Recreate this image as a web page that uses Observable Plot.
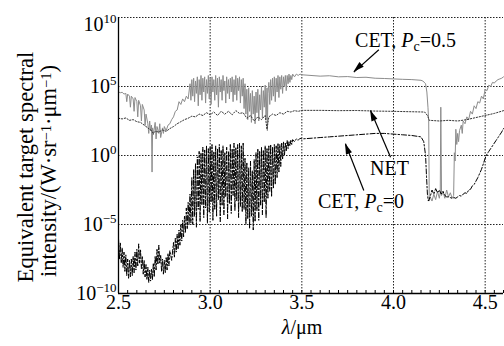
<!DOCTYPE html>
<html><head><meta charset="utf-8">
<script src="https://cdn.jsdelivr.net/npm/d3@7"></script>
<script src="https://cdn.jsdelivr.net/npm/@observablehq/plot@0.6"></script>
<style>html,body{margin:0;padding:0;background:#fff;overflow:hidden} svg{display:block}</style>
</head><body><div id="chart"></div>
<script>
// ---- data (wavelength in μm, intensity as log10 exponent) ----
const cet05Wl = [2.500,2.510,2.520,2.530,2.540,2.545,2.550,2.560,2.565,2.570,2.580,2.585,2.590,2.600,2.605,2.610,2.620,2.625,2.630,2.640,2.645,2.650,2.660,2.665,2.670,2.675,2.680,2.683,2.686,2.690,2.700,2.705,2.710,2.720,2.725,2.730,2.740,2.745,2.750,2.760,2.770,2.780,2.790,2.800,2.810,2.820,2.830,2.840,2.850,2.860,2.870,2.880,
2.890,2.895,2.900,2.905,2.910,2.915,2.920,2.925,2.930,2.935,2.940,2.945,2.950,2.955,2.960,2.965,2.970,2.975,2.980,2.985,2.990,2.995,3.000,3.005,3.010,3.015,3.020,3.025,3.030,3.035,3.040,3.045,3.050,3.055,3.060,3.065,3.070,3.075,3.080,3.085,3.090,3.095,3.100,3.105,3.110,3.115,3.120,3.125,3.130,3.135,3.140,3.145,3.150,3.155,3.160,3.165,3.170,3.175,3.180,3.185,3.190,3.195,3.200,3.205,3.210,3.215,3.220,3.225,3.230,3.235,3.240,3.245,3.250,3.255,3.260,3.265,3.270,3.275,3.280,3.285,3.290,3.295,3.300,3.305,3.310,3.312,3.315,3.320,3.325,3.330,3.335,3.340,3.345,3.350,3.355,3.360,3.365,3.370,3.375,3.380,3.385,3.390,3.395,3.400,3.405,3.410,3.415,3.420,3.425,3.430,3.435,3.440,3.445,3.450,3.460,3.470,3.480,3.490,3.500,
3.55,3.60,3.65,3.70,3.75,3.80,3.85,3.90,3.95,4.00,4.05,4.10,4.15,4.16,4.175,4.182,4.188,4.192,4.195,4.20,4.21,4.22,4.23,4.24,4.25,4.255,4.258,4.262,4.27,4.28,4.29,4.30,4.31,4.32,4.328,4.332,4.336,4.34,4.345,4.35,4.355,4.36,4.37,4.375,4.38,4.39,4.40,4.41,4.42,4.43,4.44,4.45,4.46,4.47,4.48,4.49,4.50,4.51,4.52,4.53,4.54,4.55,4.56,4.57,4.58,4.59,4.60];
const cet05Log = [4.60,4.55,4.58,4.45,4.50,3.9,4.45,4.3,3.5,4.3,4.1,3.2,4.2,3.9,2.8,4.0,3.6,2.5,3.7,3.3,2.2,3.0,2.3,1.6,2.5,1.8,2.2,-1.2,2.0,1.5,2.4,1.2,2.1,1.6,2.3,1.3,2.0,1.6,2.1,1.8,2.2,2.3,2.6,2.8,3.2,3.3,3.9,3.7,4.1,3.9,4.3,4.1,
5.2,4.0,5.5,4.3,5.6,3.9,5.4,4.5,5.7,3.6,5.5,4.4,5.8,4.0,5.6,4.6,5.7,3.8,5.5,4.5,5.8,4.1,5.6,3.7,5.7,4.6,5.5,4.0,5.8,4.4,5.6,3.5,5.7,4.6,5.5,4.0,5.8,4.7,5.4,3.8,5.7,4.5,5.5,4.1,5.6,4.6,5.7,3.9,5.5,4.4,5.8,4.0,5.6,4.7,5.7,3.8,5.5,4.3,5.6,3.4,5.2,3.0,4.8,2.6,4.9,3.2,4.5,2.4,4.7,3.0,4.3,2.3,4.6,3.1,4.8,2.5,4.4,3.3,5.0,2.7,4.7,3.5,5.1,2.6,4.9,1.8,4.5,5.3,3.7,5.5,4.0,5.6,4.3,5.7,3.9,5.6,4.6,5.8,4.2,5.7,4.8,5.8,4.5,5.7,5.0,5.8,4.7,5.8,5.2,5.9,5.3,5.8,5.5,5.9,5.7,5.9,5.8,5.9,5.85,
5.8,5.75,5.78,5.7,5.72,5.65,5.67,5.6,5.58,5.55,5.52,5.5,5.45,5.4,5.2,4.6,3.5,2.5,-3.3,-3.0,-3.3,-2.8,-3.2,-2.6,-3.1,-2.7,3.5,-2.9,-2.6,-3.1,-2.5,-3.0,-2.7,-3.1,-2.9,0.2,-0.4,1.9,0.8,1.6,1.0,1.8,2.2,1.6,2.5,2.3,2.8,2.6,3.2,3.0,3.6,3.4,3.9,3.8,4.3,4.1,4.8,4.7,5.1,5.0,5.3,5.25,5.4,5.5,5.55,5.6,5.7];

const netWl = [2.50,2.52,2.54,2.56,2.58,2.60,2.62,2.64,2.66,2.68,2.69,2.70,2.72,2.74,2.76,2.78,2.80,2.82,2.84,2.86,2.88,2.90,2.92,2.94,2.96,2.98,3.00,3.02,3.04,3.06,3.08,3.10,3.12,3.14,3.16,3.18,3.20,3.22,3.24,3.26,3.28,3.30,3.31,3.32,3.34,3.36,3.38,3.40,3.42,3.44,3.46,3.48,3.50,3.60,3.70,3.80,3.90,4.00,4.10,4.17,4.185,4.195,4.25,4.30,4.35,4.40,4.45,4.50,4.55,4.60];
const netLog = [2.70,2.65,2.72,2.55,2.6,2.45,2.4,2.2,2.0,1.8,1.6,1.75,1.7,1.85,1.75,1.95,2.1,2.3,2.45,2.6,2.7,2.85,2.8,3.0,2.9,3.1,2.95,3.15,2.9,3.2,3.0,3.2,2.95,3.25,3.05,3.1,2.7,2.9,2.5,2.8,2.6,2.9,1.9,2.8,3.0,2.9,3.1,3.0,3.2,3.15,3.25,3.2,3.27,3.27,3.25,3.26,3.22,3.2,3.17,3.15,2.9,2.55,2.5,2.55,2.5,2.6,2.75,2.9,3.05,3.25];

const cet0Wl = [2.500,2.505,2.510,2.515,2.520,2.525,2.530,2.535,2.540,2.545,2.550,2.555,2.560,2.565,2.570,2.575,2.580,2.585,2.590,2.595,2.600,2.605,2.610,2.615,2.620,2.625,2.630,2.635,2.640,2.645,2.650,2.655,2.660,2.665,2.670,2.675,2.680,2.685,2.690,2.695,2.700,2.705,2.710,2.715,2.720,2.725,2.730,2.735,2.740,2.745,2.750,2.755,2.760,2.765,2.770,2.775,2.780,2.790,2.800,2.805,2.810,2.815,2.820,2.825,2.830,2.835,2.840,2.845,2.850,2.855,2.860,2.865,2.870,2.875,2.880,2.885,2.890,2.895,
2.900,2.905,2.910,2.915,2.920,2.925,2.930,2.935,2.940,2.945,2.950,2.955,2.960,2.965,2.970,2.975,2.980,2.985,2.990,2.995,3.000,3.005,3.010,3.015,3.020,3.025,3.030,3.035,3.040,3.045,3.050,3.055,3.060,3.065,3.070,3.075,3.080,3.085,3.090,3.095,3.100,3.105,3.110,3.115,3.120,3.125,3.130,3.135,3.140,3.145,3.150,3.155,3.160,3.165,3.170,3.175,3.180,3.185,3.190,3.195,3.200,3.205,3.210,3.215,3.220,3.225,3.230,3.235,3.240,3.245,3.250,3.255,3.260,3.265,3.270,3.275,3.280,3.285,3.290,3.295,3.300,3.305,3.310,3.315,3.320,3.325,3.330,3.335,3.340,3.345,3.350,3.355,3.360,3.365,3.370,3.375,3.380,3.385,3.390,3.395,3.400,3.405,3.410,3.415,3.420,3.425,3.430,3.435,3.440,3.445,3.450,3.460,3.470,3.480,3.490,3.500,
3.55,3.60,3.65,3.70,3.75,3.80,3.85,3.90,3.95,4.00,4.05,4.10,4.15,4.165,4.175,4.18,4.185,4.19,4.20,4.21,4.22,4.23,4.24,4.25,4.26,4.27,4.28,4.29,4.30,4.31,4.32,4.33,4.34,4.35,4.36,4.37,4.38,4.39,4.40,4.41,4.42,4.43,4.44,4.45,4.46,4.47,4.48,4.49,4.50,4.51,4.52,4.53,4.54,4.55,4.56,4.57,4.58,4.59,4.60];
const cet0Log = [-6.0,-7.5,-6.3,-7.8,-6.7,-8.1,-7.0,-8.4,-7.2,-8.7,-7.5,-8.9,-7.6,-8.8,-7.5,-8.7,-7.3,-8.5,-7.0,-8.3,-6.8,-8.0,-6.4,-7.8,-6.8,-8.2,-7.3,-8.6,-7.6,-8.8,-7.9,-9.0,-8.1,-9.2,-8.3,-9.1,-8.2,-9.0,-7.8,-8.8,-7.3,-8.3,-6.8,-7.9,-6.5,-7.8,-7.2,-8.4,-7.5,-8.6,-7.6,-8.5,-7.4,-8.3,-7.1,-8.0,-6.9,-7.6,-6.3,-7.4,-6.0,-7.0,-5.7,-6.8,-5.4,-6.5,-5.0,-6.2,-4.7,-5.9,-4.4,-5.6,-3.8,-5.3,-3.4,-5.0,-2.8,-4.9,
-1.6,-5.0,-1.0,-4.4,-0.6,-5.2,-0.1,-3.9,0.3,-4.8,0.2,-3.6,0.6,-4.5,0.4,-3.8,0.7,-4.9,0.5,-4.1,0.6,-3.4,0.8,-4.7,0.3,-3.9,0.7,-4.4,0.5,-3.2,0.8,-4.8,0.4,-3.6,0.7,-4.3,0.2,-3.0,0.6,-4.6,0.3,-3.5,0.8,-4.2,0.5,-2.9,0.9,-4.0,0.6,-3.3,0.8,-4.5,0.9,-3.7,0.7,-4.1,0.9,-3.9,-0.2,-5.0,-0.5,-4.6,-0.9,-5.3,-0.4,-4.4,-1.1,-5.4,-0.3,-4.8,0.2,-4.0,0.5,-4.7,0.3,-3.6,0.6,-4.3,0.4,-3.4,0.7,-4.5,0.5,-3.1,0.7,-2.6,0.8,-3.0,0.6,-2.4,0.8,-2.1,0.7,-1.6,0.9,-1.2,0.8,-0.8,0.9,-0.3,1.0,0.0,0.9,0.3,1.1,0.5,1.0,0.7,1.1,0.8,1.15,1.0,1.2,1.1,1.25,1.2,
1.25,1.3,1.35,1.4,1.45,1.5,1.55,1.6,1.6,1.55,1.5,1.45,1.35,1.0,0.0,-1.5,-2.8,-3.3,-3.0,-2.5,-2.8,-2.4,-2.7,-2.5,-2.8,-2.6,-2.9,-3.0,-3.0,-3.05,-3.1,-3.05,-3.1,-3.0,-2.9,-2.95,-2.8,-2.7,-2.75,-2.5,-2.45,-2.2,-2.1,-1.85,-1.6,-1.3,-1.0,-0.6,-0.2,0.1,0.3,0.5,0.7,0.9,1.1,1.3,1.5,1.7,1.95];

const xTickValues = [2.5, 3.0, 3.5, 4.0, 4.5];
const xGridValues = [3.0, 3.5, 4.0, 4.5];
const yTickExps = [-10, -5, 0, 5, 10];
const yGridExps = [-5, 0, 5, 10];

// annotation labels, anchored at left baseline (wavelength, log10 value)
const labelNames = ["CET05", "NET", "CET0"];
const labelWl = [3.793, 3.875, 3.591];
const labelLog = [7.83, -1.45, -3.84];
// arrows: tail -> head
const arrowTailWl = [3.92, 3.984, 3.838];
const arrowTailLog = [7.66, -0.12, -2.54];
const arrowHeadWl = [3.784, 3.875, 3.738];
const arrowHeadLog = [6.04, 3.26, 0.85];

// ---- build tables ----
const toRows = (wl, lg) => wl.map((w, i) => ({w, v: Math.pow(10, lg[i])}));
const cet05 = toRows(cet05Wl, cet05Log);
const net = toRows(netWl, netLog);
const cet0 = toRows(cet0Wl, cet0Log);
const arrows = arrowTailWl.map((w, i) => ({x1: w, y1: Math.pow(10, arrowTailLog[i]), x2: arrowHeadWl[i], y2: Math.pow(10, arrowHeadLog[i])}));
const minorTicks = d3.range(0, 43).map(i => 2.5 + i * 0.05);

const FONT = "'Liberation Serif', serif";
const PLOT_H = 346 - 17 - 53;

const chart = Plot.plot({
  width: 504, height: 346,
  marginLeft: 118, marginRight: 1, marginTop: 17, marginBottom: 53,
  style: {fontFamily: FONT, fontSize: "20px", background: "#fff", color: "#000"},
  x: {domain: [2.5, 4.6]},
  y: {type: "log", domain: [1e-10, 1e10]},
  marks: [
    Plot.ruleX(xGridValues, {stroke: "#222", strokeWidth: 1, strokeDasharray: "1.5,1.5"}),
    Plot.ruleY(yGridExps.map(e => Math.pow(10, e)), {stroke: "#222", strokeWidth: 1, strokeDasharray: "1.5,1.5"}),
    Plot.line(cet05, {x: "w", y: "v", stroke: "#8c8c8c", strokeWidth: 1}),
    Plot.line(net, {x: "w", y: "v", stroke: "#333", strokeWidth: 1, strokeDasharray: "1.3,1.7"}),
    Plot.line(cet0, {x: "w", y: "v", stroke: "#000", strokeWidth: 1, strokeDasharray: "5,2,1.5,2"}),
    Plot.link(arrows, {x1: "x1", y1: "y1", x2: "x2", y2: "y2", stroke: "#000", strokeWidth: 1.2}),
    Plot.ruleX(minorTicks, {stroke: "#000", strokeWidth: 1, insetTop: PLOT_H - 3}),
    Plot.ruleX([2.5], {stroke: "#000", strokeWidth: 1.3}),
    Plot.ruleY([1e-10], {stroke: "#000", strokeWidth: 1.3}),
    Plot.axisX(xTickValues, {anchor: "bottom", tickSize: 0, tickPadding: 1, tickFormat: d3.format(".1f"), label: null}),
    Plot.axisY(yTickExps.map(e => Math.pow(10, e)), {anchor: "left", tickSize: 0, tickPadding: 2, tickFormat: d => "10^" + Math.round(Math.log10(d)), label: null})
  ]
});

document.getElementById("chart").appendChild(chart);
const svg = d3.select(chart);
const sx = chart.scale("x"), sy = chart.scale("y");

// superscripts on y tick labels
svg.selectAll('g[aria-label="y-axis tick label"] text').each(function () {
  const t = this.textContent;
  if (!t.includes("^")) return;
  const [b, e] = t.split("^");
  this.textContent = b;
  d3.select(this).append("tspan").attr("dy", "-8").attr("font-size", "13px").text(e.replace("-", "\u2212"));
  if (e === "10") {
    const tr = this.getAttribute("transform") || "";
    this.setAttribute("transform", tr + " translate(0,7)");
  }
});

// arrow heads
arrows.forEach(a => {
  const x1 = sx.apply(a.x1), y1 = sy.apply(a.y1), x2 = sx.apply(a.x2), y2 = sy.apply(a.y2);
  const ang = Math.atan2(y2 - y1, x2 - x1);
  const L = 11, W = 3.2;
  const bx = x2 - L * Math.cos(ang), by = y2 - L * Math.sin(ang);
  const px = -Math.sin(ang) * W, py = Math.cos(ang) * W;
  svg.append("path").attr("d", `M${x2},${y2}L${bx + px},${by + py}L${bx - px},${by - py}Z`).attr("fill", "#000");
});

// annotation labels
function addLabel(i) {
  const t = svg.append("text").attr("x", sx.apply(labelWl[i])).attr("y", sy.apply(Math.pow(10, labelLog[i])))
    .attr("text-anchor", "start").attr("font-size", 20).attr("fill", "#000");
  const name = labelNames[i];
  if (name === "NET") { t.text("NET"); return; }
  t.append("tspan").text("CET, ");
  t.append("tspan").attr("font-style", "italic").text("P");
  t.append("tspan").attr("font-size", 14).attr("dy", 4).text("c");
  t.append("tspan").attr("dy", -4).text(name === "CET05" ? "=0.5" : "=0");
}
[0, 1, 2].forEach(addLabel);

// x axis title
const xt = svg.append("text").attr("x", 302).attr("y", 334).attr("text-anchor", "middle").attr("font-size", 20);
xt.append("tspan").attr("font-style", "italic").text("λ");
xt.append("tspan").text("/μm");

// y axis title (two lines)
const yt1 = svg.append("text").attr("transform", "translate(33,167) rotate(-90)").attr("text-anchor", "middle")
  .attr("font-size", 22).text("Equivalent target spectral");
const yt2 = svg.append("text").attr("transform", "translate(56,171) rotate(-90)").attr("text-anchor", "middle").attr("font-size", 22);
yt2.append("tspan").text("intensity/(W·sr");
yt2.append("tspan").attr("dy", "-0.33em").attr("font-size", "0.64em").text("\u22121");
yt2.append("tspan").attr("dy", "0.21em").text("·μm");
yt2.append("tspan").attr("dy", "-0.33em").attr("font-size", "0.64em").text("\u22121");
yt2.append("tspan").attr("dy", "0.21em").text(")");

svg.selectAll("text").style("font-family", FONT);

// fit the two title lines to the reference lengths
[[yt1, 231], [yt2, 212]].forEach(([sel, target]) => {
  const len = sel.node().getComputedTextLength();
  if (len > 0) sel.attr("font-size", Math.max(16, Math.min(24, 22 * target / len)));
});
</script>
</body></html>
